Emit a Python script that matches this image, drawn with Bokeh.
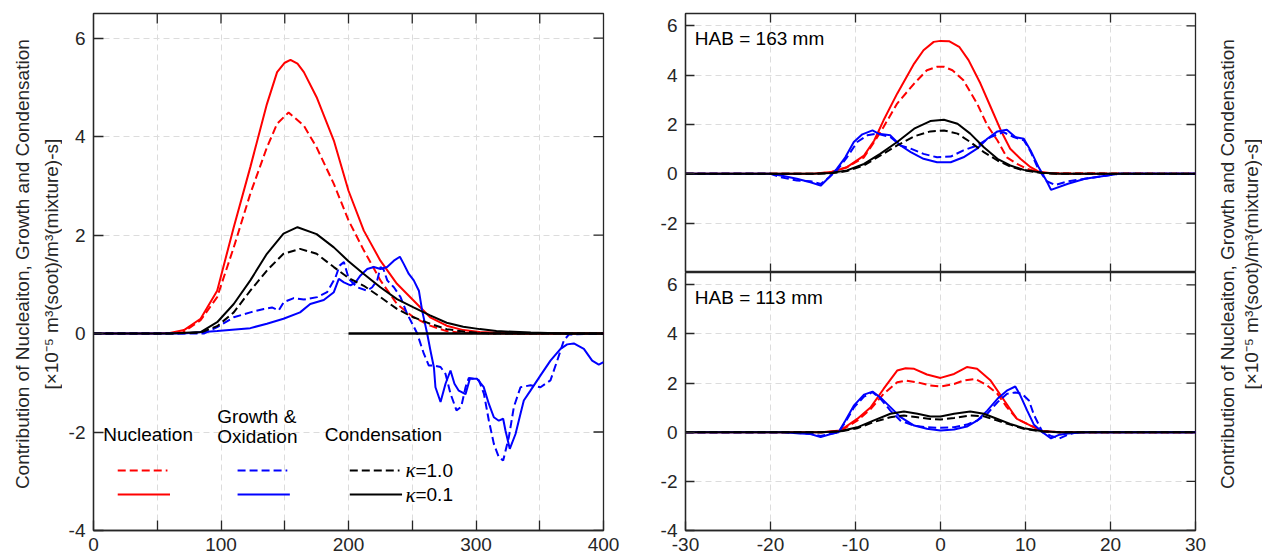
import math
from bokeh.plotting import figure
from bokeh.models import Range1d, FixedTicker, Label
from bokeh.layouts import row, column
from bokeh.embed import file_html
from bokeh.resources import INLINE

# ---------------- data: left panel (centerline, HAB in mm) ----------------
nuc_k01_x = [0, 50, 60, 71, 84, 97, 110, 123, 136, 144, 150, 154.5, 160, 165, 175, 188.5, 200, 212, 225, 238, 251, 264, 277, 290, 303, 330, 400]
nuc_k01_y = [0, 0, 0.01, 0.07, 0.30, 0.87, 2.16, 3.38, 4.66, 5.31, 5.50, 5.56, 5.48, 5.31, 4.80, 3.92, 2.90, 2.09, 1.48, 1.01, 0.67, 0.33, 0.16, 0.07, 0.03, 0, 0]

nuc_k10_x = [0, 50, 70, 84, 97, 110, 123, 136, 144, 153, 165, 175, 188.5, 200, 212, 225, 238, 251, 264, 277, 290, 320, 400]
nuc_k10_y = [0, 0, 0.02, 0.27, 0.74, 1.75, 2.84, 3.78, 4.26, 4.49, 4.22, 3.78, 3.04, 2.30, 1.69, 1.08, 0.60, 0.33, 0.16, 0.05, 0.01, 0, 0]

cond_k01_x = [0, 60, 84, 97, 110, 123, 136, 149, 160, 175, 188.5, 200, 212, 225, 238, 251, 264, 277, 290, 303, 316, 343, 370, 400]
cond_k01_y = [0, 0, 0.03, 0.23, 0.60, 1.08, 1.62, 2.03, 2.16, 2.02, 1.75, 1.47, 1.21, 0.94, 0.70, 0.53, 0.37, 0.22, 0.14, 0.09, 0.05, 0.02, 0, 0]

cond_k10_x = [0, 60, 84, 97, 110, 123, 136, 149, 162, 175, 188.5, 200, 212, 225, 238, 251, 264, 277, 290, 310, 400]
cond_k10_y = [0, 0, 0.02, 0.15, 0.43, 0.87, 1.28, 1.62, 1.72, 1.62, 1.35, 1.13, 0.97, 0.74, 0.50, 0.33, 0.20, 0.09, 0.04, 0, 0]

gro_k01_x = [0, 70, 97, 123, 136, 149, 162, 170, 180.6, 188.5, 192.4, 196.4, 201.6, 205.5, 209.4, 214.7, 219.9, 225.1, 230.3, 235.6, 240.3, 243.4, 247.3, 251.2, 255.2, 257.8, 261.7, 264.3, 267, 268.2, 272.2, 276.1, 280, 283.1, 286.5, 291.8, 295.2, 300.9, 306.1, 310.1, 314, 317.9, 321.3, 323.1, 326.5, 331, 334.9, 337.5, 342.7, 350.6, 358.4, 366.3, 371.5, 376.7, 384.6, 391.1, 396.3, 400]
gro_k01_y = [0, 0, 0.05, 0.11, 0.20, 0.30, 0.43, 0.60, 0.68, 0.84, 1.11, 1.04, 0.98, 1.04, 1.18, 1.31, 1.35, 1.31, 1.35, 1.48, 1.56, 1.41, 1.21, 1.08, 0.87, 0.46, 0.0, -0.35, -0.69, -1.09, -1.39, -1.02, -0.75, -1.02, -1.16, -1.23, -0.92, -0.92, -1.09, -1.43, -1.70, -1.77, -1.73, -1.97, -2.34, -2.04, -1.63, -1.36, -1.16, -0.85, -0.55, -0.31, -0.22, -0.20, -0.31, -0.55, -0.63, -0.58]

gro_k10_x = [0, 80, 86.5, 97, 110, 123, 133.6, 140, 145.3, 149.3, 157.1, 165, 175.4, 183.2, 189.8, 193, 196.4, 200.3, 206.8, 214.7, 218.6, 222.5, 225.1, 227.5, 230.4, 235.6, 240.8, 246, 250, 253.9, 259.1, 263, 267, 272.2, 276.1, 280, 284.7, 288.4, 291.8, 294.4, 298.3, 302.3, 306.2, 310.1, 314, 317.9, 321.3, 325.8, 329.7, 334.9, 342.8, 350.6, 358.4, 363.7, 368.9, 372.8, 400]
gro_k10_y = [0, 0, 0.0, 0.13, 0.33, 0.43, 0.50, 0.53, 0.47, 0.64, 0.72, 0.69, 0.74, 0.84, 1.14, 1.38, 1.45, 1.11, 0.94, 0.87, 0.94, 1.08, 1.35, 1.30, 1.08, 0.94, 0.74, 0.40, 0.20, 0.0, -0.41, -0.65, -0.65, -0.68, -0.82, -1.22, -1.56, -1.49, -1.09, -0.90, -0.92, -0.95, -1.22, -1.77, -2.24, -2.51, -2.58, -2.10, -1.49, -1.09, -1.05, -1.09, -0.95, -0.55, -0.14, -0.02, 0]

zero_line_x = [200, 400]
zero_line_y = [0, 0]

# ---------------- data: right panels (radial position, mm) ----------------
t_nuc_k01_x = [-30, -15, -12.9, -11, -9.0, -7.8, -6.7, -5.1, -3.1, -2.0, -0.8, 0.0, 1.0, 2.2, 3.3, 4.7, 5.9, 7.1, 8.2, 9.4, 10.6, 11.5, 13, 15, 30]
t_nuc_k01_y = [0, 0, 0.07, 0.27, 0.74, 1.35, 2.17, 3.25, 4.47, 5.01, 5.35, 5.39, 5.38, 5.15, 4.61, 3.66, 2.71, 1.76, 1.02, 0.61, 0.27, 0.10, 0.02, 0, 0]
t_nuc_k10_x = [-30, -15, -12.9, -11, -9.0, -7.8, -6.7, -5.1, -3.1, -1.6, -0.4, 0.4, 1.4, 2.7, 4.3, 5.5, 6.7, 7.8, 9.0, 10.2, 12, 30]
t_nuc_k10_y = [0, 0, 0.07, 0.27, 0.67, 1.29, 1.90, 2.85, 3.66, 4.20, 4.34, 4.34, 4.20, 3.79, 2.85, 1.97, 1.35, 0.67, 0.40, 0.20, 0.03, 0]
t_cond_x = [-30, -15, -12.9, -11, -9.0, -7.1, -5.1, -3.1, -1.2, 0.4, 2.0, 3.5, 5.1, 6.7, 8.2, 9.8, 12, 14, 30]
t_cond_k01_y = [0, 0, 0.03, 0.14, 0.40, 0.81, 1.29, 1.83, 2.14, 2.19, 2.03, 1.63, 1.08, 0.61, 0.34, 0.16, 0.04, 0, 0]
t_cond_k10_y = [0, 0, 0.02, 0.11, 0.34, 0.74, 1.15, 1.52, 1.72, 1.76, 1.63, 1.29, 0.88, 0.54, 0.30, 0.14, 0.03, 0, 0]
t_gro_k01_x = [-30, -20, -18.8, -16.9, -15.3, -14.1, -13.1, -12.2, -11.2, -10.2, -9.2, -8.0, -7.3, -5.9, -4.7, -3.5, -2.0, -0.4, 1.2, 2.7, 4.3, 5.5, 6.7, 7.8, 8.8, 9.8, 10.6, 11.5, 12.5, 13.0, 15, 17, 19, 21, 30]
t_gro_k01_y = [0, 0, -0.07, -0.20, -0.34, -0.48, -0.14, 0.20, 0.67, 1.29, 1.60, 1.76, 1.63, 1.56, 1.15, 0.88, 0.61, 0.47, 0.47, 0.67, 1.02, 1.42, 1.72, 1.79, 1.49, 1.42, 0.95, 0.30, -0.30, -0.65, -0.40, -0.20, -0.10, 0, 0]
t_gro_k10_x = [-30, -20, -18.8, -16.9, -15.3, -14.1, -13.1, -12.2, -11.0, -9.8, -8.6, -7.5, -5.9, -4.7, -3.5, -2.0, -0.4, 1.2, 2.7, 4.3, 5.9, 7.4, 8.6, 9.8, 10.6, 11.5, 12.5, 13.5, 15, 17, 19, 21, 30]
t_gro_k10_y = [0, 0, -0.14, -0.27, -0.30, -0.41, -0.14, 0.14, 0.67, 1.29, 1.56, 1.63, 1.49, 1.15, 1.02, 0.81, 0.67, 0.70, 0.95, 1.15, 1.49, 1.69, 1.49, 1.36, 0.90, 0.20, -0.30, -0.45, -0.30, -0.20, -0.10, 0, 0]

b_nuc_k01_x = [-30, -14, -11.8, -9.8, -8.2, -6.7, -5.1, -4.1, -3.1, -1.6, 0, 1.6, 3.1, 4.3, 5.9, 7.5, 9.0, 10.6, 12, 14, 30]
b_nuc_k01_y = [0, 0, 0.07, 0.54, 1.02, 1.76, 2.51, 2.60, 2.58, 2.35, 2.21, 2.37, 2.65, 2.58, 2.10, 1.29, 0.54, 0.27, 0.05, 0, 0]
b_nuc_k10_x = [-30, -14, -11.8, -9.8, -8.2, -6.7, -5.1, -4.1, -2.7, -1.2, 0, 1.6, 2.7, 4.1, 5.5, 6.7, 7.8, 9.0, 10.6, 12, 14, 30]
b_nuc_k10_y = [0, 0, 0.05, 0.47, 0.95, 1.56, 2.03, 2.10, 2.03, 1.90, 1.86, 1.96, 2.10, 2.17, 1.90, 1.56, 1.02, 0.54, 0.27, 0.04, 0, 0]
b_cond_x = [-30, -14, -11.8, -9.8, -7.9, -5.9, -4.3, -2.7, -1.2, 0, 1.6, 3.5, 5.1, 6.7, 8.2, 9.8, 12, 14, 30]
b_cond_k01_y = [0, 0, 0.04, 0.20, 0.47, 0.75, 0.84, 0.75, 0.64, 0.64, 0.75, 0.84, 0.75, 0.54, 0.34, 0.16, 0.04, 0, 0]
b_cond_k10_y = [0, 0, 0.03, 0.16, 0.41, 0.61, 0.68, 0.61, 0.54, 0.52, 0.58, 0.68, 0.65, 0.47, 0.31, 0.14, 0.03, 0, 0]
b_gro_k01_x = [-30, -18.4, -16.9, -15.3, -14.1, -12.9, -12.0, -11.2, -10.2, -9.0, -8.0, -7.1, -5.9, -4.7, -3.1, -1.6, 0, 1.6, 3.1, 4.3, 5.5, 6.7, 7.8, 8.8, 9.4, 10.2, 11, 12, 13, 14, 15, 17, 30]
b_gro_k01_y = [0, 0, -0.04, -0.07, -0.20, -0.07, 0, 0.47, 1.08, 1.53, 1.65, 1.42, 1.02, 0.61, 0.27, 0.14, 0.07, 0.11, 0.23, 0.47, 0.88, 1.36, 1.69, 1.86, 1.49, 0.88, 0.30, 0, -0.25, -0.10, -0.05, 0, 0]
b_gro_k10_x = [-30, -18.4, -16.9, -15.3, -14.1, -12.9, -12.0, -11.2, -10.2, -9.0, -8.0, -7.1, -5.9, -4.7, -3.1, -1.6, 0, 1.6, 3.1, 4.3, 5.5, 6.7, 7.8, 8.8, 9.6, 10.4, 11, 12, 13, 14, 15, 16, 30]
b_gro_k10_y = [0, 0, -0.03, -0.06, -0.15, -0.06, 0, 0.40, 1.00, 1.45, 1.63, 1.38, 0.88, 0.47, 0.27, 0.20, 0.18, 0.20, 0.31, 0.47, 0.75, 1.22, 1.56, 1.62, 1.56, 1.29, 0.70, 0.0, -0.15, -0.25, -0.10, 0, 0]

# ---------------- tick labels and texts ----------------
left_x_ticks = [0, 50, 100, 150, 200, 250, 300, 350, 400]
left_x_labels = {0: "0", 50: "", 100: "100", 150: "", 200: "200", 250: "", 300: "300", 350: "", 400: "400"}
right_x_ticks = [-30, -20, -10, 0, 10, 20, 30]
right_x_labels = {-30: "-30", -20: "-20", -10: "-10", 0: "0", 10: "10", 20: "20", 30: "30"}
y_ticks = [-4, -2, 0, 2, 4, 6]
y_labels = {-4: "-4", -2: "-2", 0: "0", 2: "2", 4: "4", 6: "6"}
y_labels_top = {-4: "", -2: "-2", 0: "0", 2: "2", 4: "4", 6: "6"}
ylabel_line1 = "Contribution of Nucleaiton, Growth and Condensation"
ylabel_line2 = "[×10⁻⁵ m³(soot)/m³(mixture)-s]"
hab_top = "HAB = 163 mm"
hab_bottom = "HAB = 113 mm"

FONT = "Liberation Sans"
FS = "19px"
AX = "#262626"
GRID = "#dcdcdc"
RED, BLUE, BLACK = "#ff0000", "#0000ff", "#000000"
LW = 2
DASH = "8 4"
YMIN, YMAX = -4, 6.5


def style(p, xticks, xlabels, ylabels, frame_w, frame_h, xr, show_xaxis=True, tick_len=10):
    p.xaxis.ticker = FixedTicker(ticks=xticks)
    p.yaxis.ticker = FixedTicker(ticks=y_ticks)
    p.xaxis.major_label_overrides = xlabels
    p.yaxis.major_label_overrides = ylabels
    p.xgrid.ticker = FixedTicker(ticks=xticks)
    p.ygrid.ticker = FixedTicker(ticks=y_ticks)
    for g in (p.xgrid, p.ygrid):
        g.grid_line_color = GRID
        g.grid_line_dash = "6 4"
        g.grid_line_width = 1
    for ax in (p.xaxis, p.yaxis):
        ax.axis_line_color = AX
        ax.axis_line_width = 1.3
        ax.major_tick_line_color = AX
        ax.major_tick_line_width = 1.3
        ax.major_tick_in = tick_len
        ax.major_tick_out = 0
        ax.minor_tick_line_color = None
        ax.major_label_text_font = FONT
        ax.major_label_text_font_size = FS
        ax.major_label_text_color = AX
    p.yaxis.major_label_standoff = 8
    p.xaxis.major_label_standoff = 7
    if not show_xaxis:
        p.xaxis.visible = False
    # inward box ticks on the remaining sides (MATLAB "box on" style)
    dx = tick_len * (xr[1] - xr[0]) / frame_w
    dy = tick_len * (YMAX - YMIN) / frame_h
    inner = [t for t in xticks if xr[0] < t < xr[1]]
    p.segment(x0=inner, y0=[YMAX] * len(inner), x1=inner, y1=[YMAX - dy] * len(inner),
              line_color=AX, line_width=1.3)
    if not show_xaxis:
        p.segment(x0=inner, y0=[YMIN] * len(inner), x1=inner, y1=[YMIN + dy] * len(inner),
                  line_color=AX, line_width=1.3)
    p.segment(x0=[xr[1]] * len(y_ticks), y0=y_ticks, x1=[xr[1] - dx] * len(y_ticks), y1=y_ticks,
              line_color=AX, line_width=1.3)
    p.outline_line_color = AX
    p.outline_line_width = 1.3
    p.background_fill_color = "white"
    p.border_fill_color = "white"


def draw_series(p, series):
    for xs, ys, color, dashed in series:
        if dashed:
            p.line(xs, ys, line_color=color, line_width=LW, line_dash=DASH)
        else:
            p.line(xs, ys, line_color=color, line_width=LW)


def label_fig(width, centers):
    f = figure(width=width, height=560, x_range=Range1d(0, width), y_range=Range1d(0, 560),
               output_backend="svg", toolbar_location=None,
               min_border_left=0, min_border_right=0, min_border_top=0, min_border_bottom=0)
    f.xaxis.visible = False
    f.yaxis.visible = False
    f.xgrid.visible = False
    f.ygrid.visible = False
    f.outline_line_color = None
    for tx, t in zip(centers, [ylabel_line1, ylabel_line2]):
        f.add_layout(Label(x=tx, y=288.5, text=t, angle=math.pi / 2, text_font=FONT,
                           text_font_size=FS, text_color=AX, text_align="center",
                           text_baseline="middle"))
    return f


# ---------------- left y label ----------------
plab_left = label_fig(62, [22, 51])

# ---------------- left figure ----------------
pl = figure(width=578, height=560, x_range=Range1d(0, 400), y_range=Range1d(YMIN, YMAX),
            output_backend="svg", toolbar_location=None,
            min_border_left=31, min_border_right=37, min_border_top=13, min_border_bottom=30)
style(pl, left_x_ticks, left_x_labels, y_labels, 510, 517, (0, 400), tick_len=10)
draw_series(pl, [
    (nuc_k10_x, nuc_k10_y, RED, True),
    (nuc_k01_x, nuc_k01_y, RED, False),
    (gro_k10_x, gro_k10_y, BLUE, True),
    (gro_k01_x, gro_k01_y, BLUE, False),
    (cond_k10_x, cond_k10_y, BLACK, True),
    (cond_k01_x, cond_k01_y, BLACK, False),
])
pl.line(zero_line_x, zero_line_y, line_color=BLACK, line_width=2.5)

# custom legend (layout positions in data units)
leg_dash_y, leg_solid_y = -2.78, -3.27
for x0, x1, color in [(19, 58, RED), (113, 152, BLUE), (201, 240, BLACK)]:
    pl.line([x0, x1], [leg_dash_y, leg_dash_y], line_color=color, line_width=LW, line_dash=DASH)
    pl.line([x0, x1 + 2], [leg_solid_y, leg_solid_y], line_color=color, line_width=LW)
for tx, ty, t in [(7.6, -2.06, "Nucleation"), (97, -1.69, "Growth &"), (97, -2.10, "Oxidation"),
                  (181.4, -2.06, "Condensation")]:
    pl.add_layout(Label(x=tx, y=ty, text=t, text_font=FONT, text_font_size=FS,
                        text_color=BLACK, text_baseline="middle", text_align="left"))
for ty, val in [(-2.78, "=1.0"), (-3.27, "=0.1")]:
    pl.add_layout(Label(x=244.7, y=ty, text="κ", text_font="Liberation Serif",
                        text_font_style="italic", text_font_size="21px",
                        text_color=BLACK, text_baseline="middle", text_align="left"))
    pl.add_layout(Label(x=252.5, y=ty, text=val, text_font=FONT, text_font_size=FS,
                        text_color=BLACK, text_baseline="middle", text_align="left"))

# ---------------- right figures ----------------
pt = figure(width=570, height=272, x_range=Range1d(-30, 30), y_range=Range1d(YMIN, YMAX),
            output_backend="svg", toolbar_location=None,
            min_border_left=45, min_border_right=15, min_border_top=13, min_border_bottom=0)
style(pt, right_x_ticks, right_x_labels, y_labels_top, 510, 259, (-30, 30), show_xaxis=False, tick_len=9)
draw_series(pt, [
    (t_nuc_k10_x, t_nuc_k10_y, RED, True),
    (t_nuc_k01_x, t_nuc_k01_y, RED, False),
    (t_gro_k10_x, t_gro_k10_y, BLUE, True),
    (t_gro_k01_x, t_gro_k01_y, BLUE, False),
    (t_cond_x, t_cond_k10_y, BLACK, True),
    (t_cond_x, t_cond_k01_y, BLACK, False),
])
pt.add_layout(Label(x=-28.9, y=5.5, text=hab_top, text_font=FONT, text_font_size=FS,
                    text_color=BLACK, text_baseline="middle", text_align="left"))

pb = figure(width=570, height=288, x_range=Range1d(-30, 30), y_range=Range1d(YMIN, YMAX),
            output_backend="svg", toolbar_location=None,
            min_border_left=45, min_border_right=15, min_border_top=0, min_border_bottom=30)
style(pb, right_x_ticks, right_x_labels, y_labels, 510, 258, (-30, 30), tick_len=9)
draw_series(pb, [
    (b_nuc_k10_x, b_nuc_k10_y, RED, True),
    (b_nuc_k01_x, b_nuc_k01_y, RED, False),
    (b_gro_k10_x, b_gro_k10_y, BLUE, True),
    (b_gro_k01_x, b_gro_k01_y, BLUE, False),
    (b_cond_x, b_cond_k10_y, BLACK, True),
    (b_cond_x, b_cond_k01_y, BLACK, False),
])
pb.add_layout(Label(x=-28.9, y=5.5, text=hab_bottom, text_font=FONT, text_font_size=FS,
                    text_color=BLACK, text_baseline="middle", text_align="left"))

# ---------------- shared right-hand y label ----------------
plab_right = label_fig(52, [17, 41])

layout = row(plab_left, pl, column(pt, pb), plab_right)
open("out.html", "w").write(file_html(layout, INLINE))
